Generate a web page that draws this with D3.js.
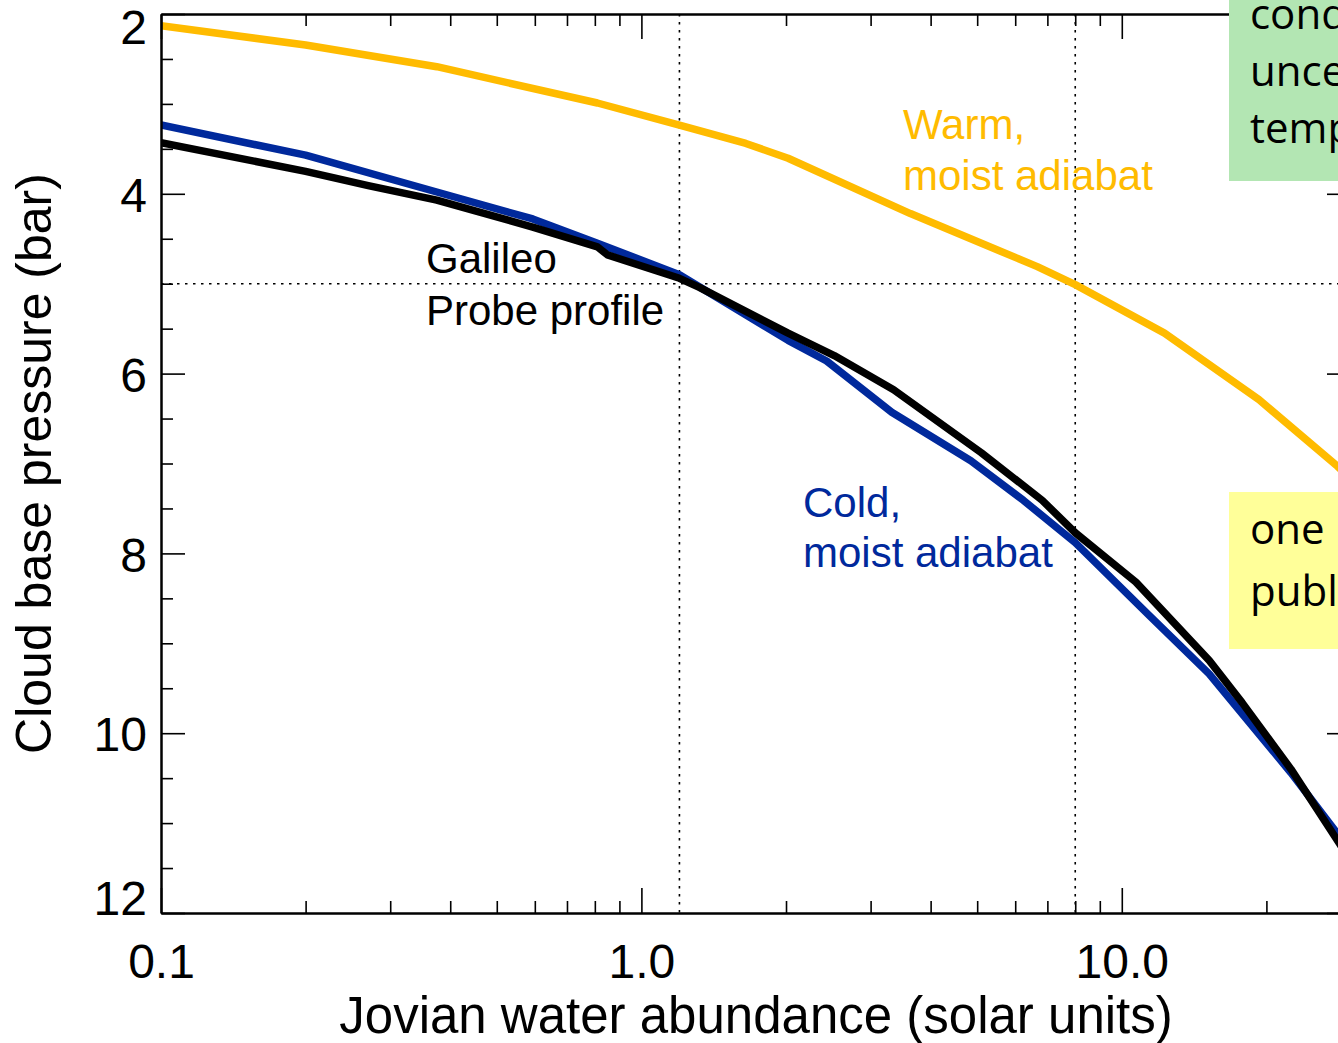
<!DOCTYPE html>
<html>
<head>
<meta charset="utf-8">
<script src="https://cdn.jsdelivr.net/npm/d3@7"></script>
<style>
  body { margin: 0; background: #fff; overflow: hidden; }
  svg { display: block; overflow: hidden; }
  text { font-family: "Liberation Sans", Arial, Helvetica, sans-serif; }
  .box-text { font-family: "Open Sans", "Noto Sans", sans-serif; }
</style>
</head>
<body>
<div class="chart"></div>
<script>
// values
const warmX = [0.1, 0.2, 0.375, 0.81, 1.2, 1.65, 2.02, 3.63, 6.67, 8.0, 12.27, 19.3, 28.1, 30]
const warmP = [2.13, 2.345, 2.586, 2.99, 3.235, 3.44, 3.605, 4.22, 4.81, 5.01, 5.55, 6.29, 7.03, 7.17]

const coldX = [0.1, 0.2, 0.375, 0.594, 0.81, 1.2, 2.02, 2.43, 3.32, 4.85, 6.24, 8.0, 11.4, 15.2, 22.5, 28.4, 30]
const coldP = [3.235, 3.57, 3.98, 4.28, 4.55, 4.90, 5.63, 5.86, 6.43, 6.97, 7.41, 7.88, 8.69, 9.34, 10.44, 11.15, 11.34]

const galileoX = [0.1, 0.2, 0.27, 0.375, 0.594, 0.81, 0.85, 1.2, 1.32, 2.02, 2.52, 3.35, 5.1, 6.83, 8.0, 10.7, 15.2, 17.8, 22.5, 28.4, 30]
const galileoP = [3.43, 3.75, 3.91, 4.07, 4.37, 4.59, 4.68, 4.94, 5.04, 5.55, 5.80, 6.18, 6.88, 7.41, 7.77, 8.32, 9.19, 9.66, 10.40, 11.23, 11.42]

const refX = [1.2, 8.0]
const refP = [5]

const xMajorTicks = [0.1, 1, 10]
const xMinorTicks = [0.2, 0.3, 0.4, 0.5, 0.6, 0.7, 0.8, 0.9, 2, 3, 4, 5, 6, 7, 8, 9, 20, 30]
const yMajorTicks = [2, 4, 6, 8, 10, 12]
const yMinorTicks = [2.5, 3, 3.5, 4.5, 5, 5.5, 6.5, 7, 7.5, 8.5, 9, 9.5, 10.5, 11, 11.5]

const greenLines = ["condensation", "uncertain", "temperature"]
const yellowLines = ["one", "published"]

const drawChart = () => {
  const colors = {
    warm: "#FFBB00",
    cold: "#00299C",
    galileo: "#000000",
    green: "#B3E6B3",
    yellow: "#FFFF99"
  }

  let dims = {
    width: 1338,
    height: 1043,
    margin: { top: 14, right: -13, bottom: 130, left: 161 }
  }
  dims.boundedWidth = dims.width - dims.margin.left - dims.margin.right
  dims.boundedHeight = dims.height - dims.margin.top - dims.margin.bottom

  const xScale = d3.scaleLog()
    .domain([0.1, 30])
    .range([0, dims.boundedWidth])

  const yScale = d3.scaleLinear()
    .domain([2, 12])
    .range([0, dims.boundedHeight])

  const lineGenerator = d3.line()
    .x(d => xScale(d[0]))
    .y(d => yScale(d[1]))

  const svg = d3.select(".chart")
    .append("svg")
      .attr("width", dims.width)
      .attr("height", dims.height)

  svg.append("defs").append("clipPath")
      .attr("id", "plot-clip")
    .append("rect")
      .attr("width", dims.boundedWidth)
      .attr("height", dims.boundedHeight)

  const bounds = svg.append("g")
      .attr("transform", `translate(${dims.margin.left},${dims.margin.top})`)

  // dotted reference lines
  const refs = bounds.append("g")
      .attr("stroke", "#000")
      .attr("stroke-width", 1.6)
      .attr("stroke-dasharray", "2.5,5.5")

  refs.selectAll(".ref-v")
    .data(refX)
    .join("line")
      .attr("class", "ref-v")
      .attr("x1", d => xScale(d))
      .attr("x2", d => xScale(d))
      .attr("y1", 0)
      .attr("y2", dims.boundedHeight)

  refs.selectAll(".ref-h")
    .data(refP)
    .join("line")
      .attr("class", "ref-h")
      .attr("x1", 0)
      .attr("x2", dims.boundedWidth)
      .attr("y1", d => yScale(d))
      .attr("y2", d => yScale(d))

  // profiles
  const series = [
    { name: "warm", values: d3.zip(warmX, warmP), color: colors.warm },
    { name: "cold", values: d3.zip(coldX, coldP), color: colors.cold },
    { name: "galileo", values: d3.zip(galileoX, galileoP), color: colors.galileo }
  ]

  bounds.append("g")
      .attr("clip-path", "url(#plot-clip)")
    .selectAll(".profile")
    .data(series)
    .join("path")
      .attr("class", "profile")
      .attr("d", d => lineGenerator(d.values))
      .attr("fill", "none")
      .attr("stroke", d => d.color)
      .attr("stroke-width", 7.5)
      .attr("stroke-linejoin", "round")

  // axes
  const styleAxis = g => g
      .call(g => g.select(".domain").attr("stroke-width", 2))
      .call(g => g.selectAll(".tick line").attr("stroke-width", 1.6))
      .call(g => g.selectAll(".tick text")
          .attr("fill", "#000")
          .style("font-size", "48px")
          .style("font-family", "'Liberation Sans', Arial, sans-serif"))

  bounds.append("g")
      .attr("transform", `translate(0,${dims.boundedHeight})`)
      .call(d3.axisBottom(xScale).tickValues(xMinorTicks).tickFormat("").tickSizeInner(-12).tickSizeOuter(0))
      .call(styleAxis)

  bounds.append("g")
      .attr("transform", `translate(0,${dims.boundedHeight})`)
      .call(d3.axisBottom(xScale).tickValues(xMajorTicks).tickFormat(d3.format(".1f"))
        .tickSizeInner(-25).tickSizeOuter(0).tickPadding(31))
      .call(styleAxis)

  bounds.append("g")
      .call(d3.axisTop(xScale).tickValues(xMinorTicks).tickFormat("").tickSizeInner(-12).tickSizeOuter(0))
      .call(styleAxis)
  bounds.append("g")
      .call(d3.axisTop(xScale).tickValues(xMajorTicks).tickFormat("").tickSizeInner(-25).tickSizeOuter(0))
      .call(styleAxis)

  bounds.append("g")
      .call(d3.axisLeft(yScale).tickValues(yMinorTicks).tickFormat("").tickSizeInner(-12).tickSizeOuter(0))
      .call(styleAxis)
  bounds.append("g")
      .call(d3.axisLeft(yScale).tickValues(yMajorTicks).tickFormat(d3.format("d"))
        .tickSizeInner(-24).tickSizeOuter(0).tickPadding(14))
      .call(styleAxis)
      .call(g => g.selectAll(".tick text")
          .attr("dy", d => d == 2 ? "0.62em" : d == 12 ? "0.04em" : "0.37em"))

  bounds.append("g")
      .attr("transform", `translate(${dims.boundedWidth},0)`)
      .call(d3.axisRight(yScale).tickValues(yMinorTicks).tickFormat("").tickSizeInner(-12).tickSizeOuter(0))
      .call(styleAxis)
  bounds.append("g")
      .attr("transform", `translate(${dims.boundedWidth},0)`)
      .call(d3.axisRight(yScale).tickValues(yMajorTicks).tickFormat("").tickSizeInner(-24).tickSizeOuter(0))
      .call(styleAxis)

  // axis titles
  svg.append("text")
      .attr("x", dims.margin.left + dims.boundedWidth / 2)
      .attr("y", 1033)
      .attr("text-anchor", "middle")
      .style("font-size", "51px")
      .text("Jovian water abundance (solar units)")

  svg.append("text")
      .attr("transform", `translate(51,${dims.margin.top + dims.boundedHeight / 2}) rotate(-90)`)
      .attr("text-anchor", "middle")
      .style("font-size", "50px")
      .text("Cloud base pressure (bar)")

  // curve labels
  const labels = [
    { lines: ["Galileo", "Probe profile"], x: 426, y: 273, dy: 52, color: "#000" },
    { lines: ["Warm,", "moist adiabat"], x: 903, y: 139, dy: 51, color: colors.warm },
    { lines: ["Cold,", "moist adiabat"], x: 803, y: 517, dy: 50, color: colors.cold }
  ]

  labels.forEach(l => {
    svg.append("text")
        .attr("fill", l.color)
        .style("font-size", "42px")
      .selectAll("tspan")
      .data(l.lines)
      .join("tspan")
        .attr("x", l.x)
        .attr("y", (d, i) => l.y + i * l.dy)
        .text(d => d)
  })

  // note boxes at the right edge
  const boxes = [
    { lines: greenLines, fill: colors.green, x: 1229, y: -10, h: 191, textY: 29, dy: 57 },
    { lines: yellowLines, fill: colors.yellow, x: 1229, y: 492, h: 157, textY: 544, dy: 62 }
  ]

  boxes.forEach(b => {
    svg.append("rect")
        .attr("x", b.x)
        .attr("y", b.y)
        .attr("width", 300)
        .attr("height", b.h)
        .attr("fill", b.fill)
    svg.append("text")
        .attr("class", "box-text")
        .attr("fill", "#000")
        .style("font-size", "42px")
      .selectAll("tspan")
      .data(b.lines)
      .join("tspan")
        .attr("x", b.x + 21)
        .attr("y", (d, i) => b.textY + i * b.dy)
        .text(d => d)
  })
}
drawChart()
</script>
</body>
</html>
